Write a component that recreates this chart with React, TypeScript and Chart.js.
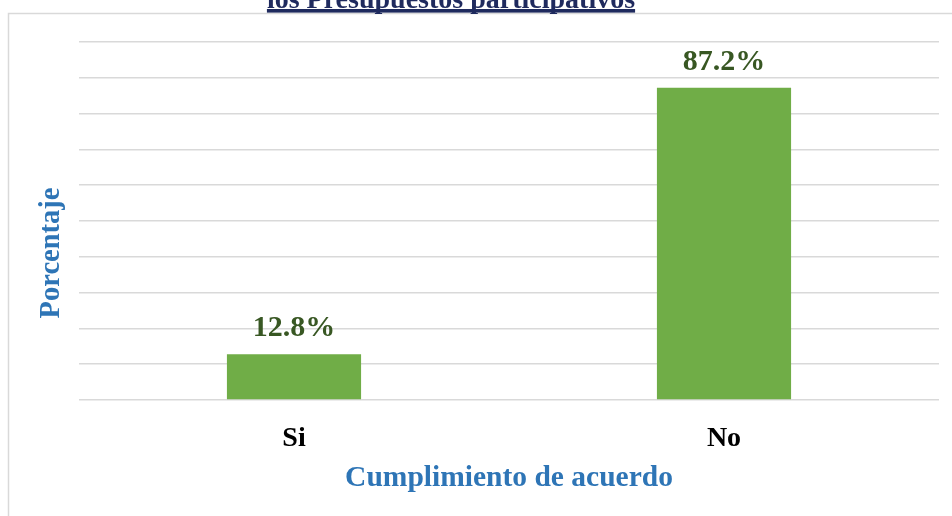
import React, { useEffect, useRef } from "react";
import { Chart, registerables } from "chart.js";

Chart.register(...registerables);

const categories = ["Si", "No"];
const values = [12.8, 87.2];
const valueLabels = ["12.8%", "87.2%"];
const titleText = "los Presupuestos participativos";
const xTitle = "Cumplimiento de acuerdo";
const yTitle = "Porcentaje";
const yMin = 0;
const yMax = 100;
const yStep = 10;

const FONT = "'Liberation Serif', 'Times New Roman', serif";

const decorPlugin = {
  id: "decor",
  beforeDraw(chart: any) {
    const ctx = chart.ctx;
    ctx.save();
    ctx.strokeStyle = "#d9d9d9";
    ctx.lineWidth = 1.5;
    ctx.beginPath();
    ctx.moveTo(8.5, 516);
    ctx.lineTo(8.5, 13.5);
    ctx.lineTo(952, 13.5);
    ctx.stroke();
    ctx.restore();
  },
  afterDraw(chart: any) {
    const ctx = chart.ctx;
    ctx.save();
    // title (clipped at top, underlined)
    ctx.font = `bold 28px ${FONT}`;
    ctx.fillStyle = "#1f2a5e";
    ctx.textAlign = "center";
    ctx.textBaseline = "alphabetic";
    const cx = 451;
    ctx.fillText(titleText, cx, 7.5);
    const w = ctx.measureText(titleText).width;
    ctx.fillRect(cx - w / 2, 9, w, 3.6);

    // y axis title
    ctx.save();
    ctx.translate(52, 253);
    ctx.rotate(-Math.PI / 2);
    ctx.font = `bold 28.5px ${FONT}`;
    ctx.fillStyle = "#2e75b6";
    ctx.textAlign = "center";
    ctx.textBaseline = "middle";
    ctx.fillText(yTitle, 0, 0);
    ctx.restore();

    // data labels
    const meta = chart.getDatasetMeta(0);
    ctx.font = `bold 30px ${FONT}`;
    ctx.fillStyle = "#385723";
    ctx.textAlign = "center";
    ctx.textBaseline = "alphabetic";
    meta.data.forEach((bar: any, i: number) => {
      ctx.fillText(valueLabels[i], bar.x, bar.y - 18);
    });
    ctx.restore();
  },
};

export default function App() {
  const ref = useRef<HTMLCanvasElement | null>(null);
  useEffect(() => {
    if (!ref.current) return;
    const chart = new Chart(ref.current, {
      type: "bar",
      data: {
        labels: categories,
        datasets: [
          {
            data: values,
            backgroundColor: "#70ad47",
            borderWidth: 0,
            categoryPercentage: 1,
            barPercentage: 0.312,
          },
        ],
      },
      options: {
        animation: false,
        responsive: false,
        maintainAspectRatio: false,
        layout: { padding: { top: 42, left: 0, right: 13, bottom: 0 } },
        plugins: {
          legend: { display: false },
          tooltip: { enabled: false },
          title: { display: false },
        },
        scales: {
          x: {
            grid: { display: false, drawTicks: false },
            border: { display: false },
            ticks: {
              color: "#000000",
              padding: 22,
              font: { family: FONT, size: 28, weight: "bold" },
            },
            title: {
              display: true,
              text: xTitle,
              color: "#2e75b6",
              font: { family: FONT, size: 29.5, weight: "bold" },
              padding: { top: 0, bottom: 20 },
            },
            afterFit: (scale: any) => {
              scale.height = 116;
            },
          },
          y: {
            min: yMin,
            max: yMax,
            ticks: { display: false, stepSize: yStep },
            grid: { color: "#d9d9d9", lineWidth: 1.5, drawTicks: false },
            border: { display: false },
            afterFit: (scale: any) => {
              scale.width = 79;
            },
          },
        },
      },
      plugins: [decorPlugin],
    });
    return () => chart.destroy();
  }, []);
  return (
    <div style={{ position: "fixed", left: 0, top: 0, width: 952, height: 516, background: "#fff" }}>
      <canvas ref={ref} width={952} height={516} style={{ width: 952, height: 516, display: "block" }} />
    </div>
  );
}
